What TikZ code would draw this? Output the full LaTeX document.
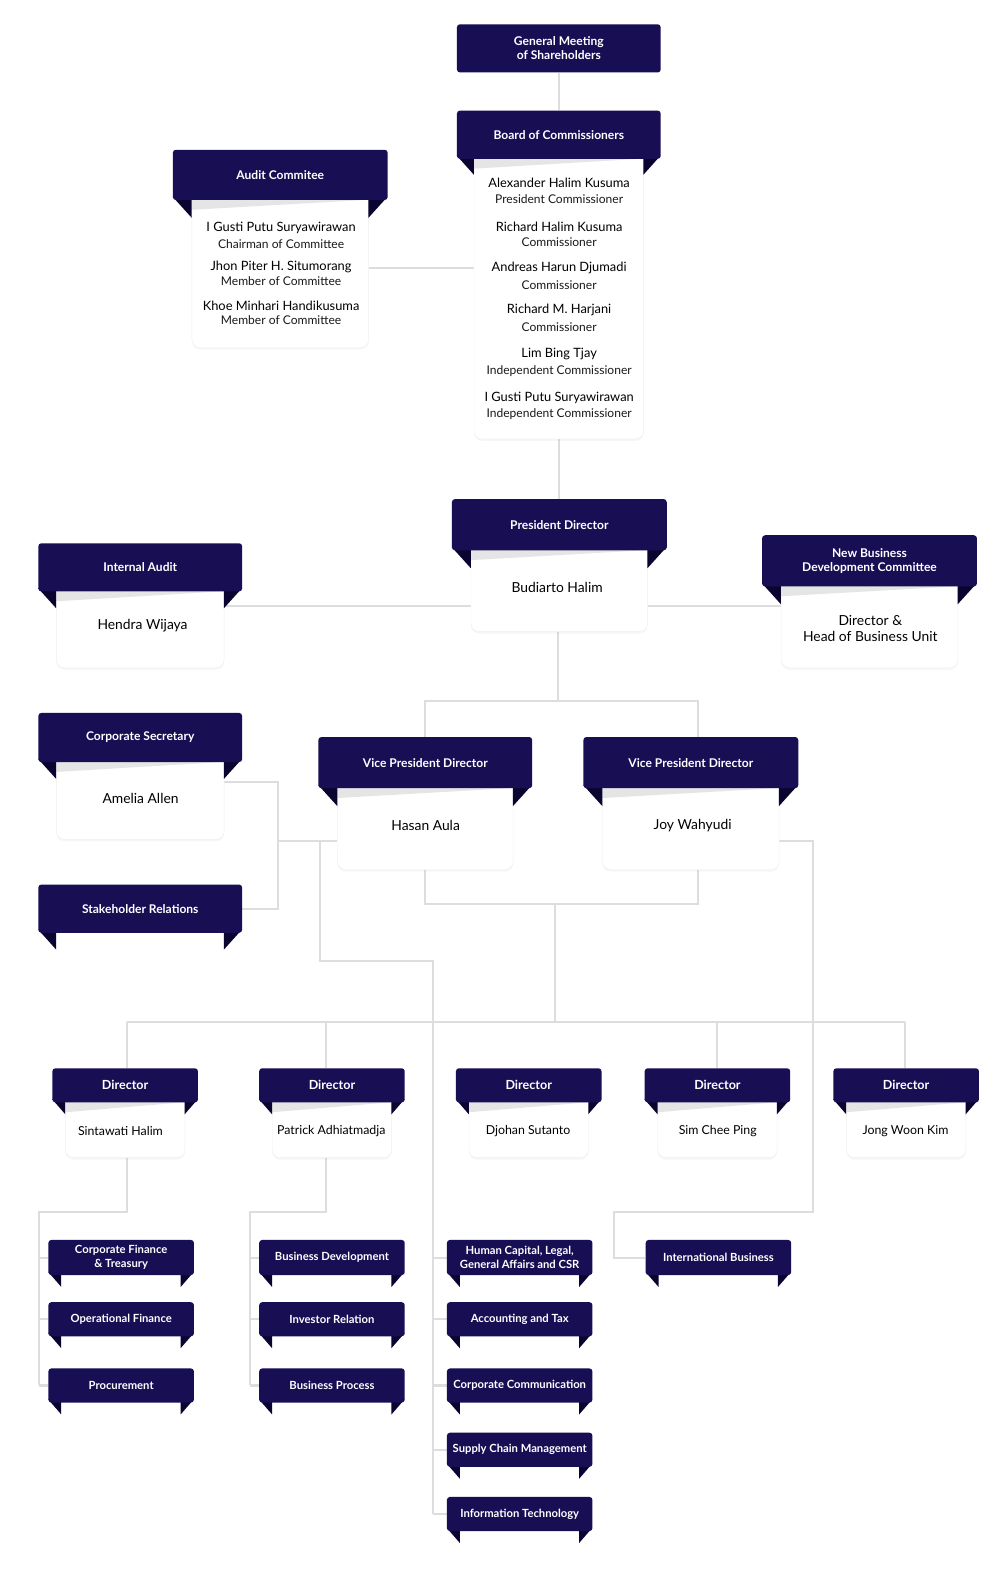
\documentclass[tikz,border=0pt]{standalone}
\usepackage{fontspec}
\setmainfont{Lato}
\usetikzlibrary{shadows}
\definecolor{navy}{HTML}{170E54}
\definecolor{navyd}{HTML}{0A0530}
\definecolor{lnc}{HTML}{DDDDDD}
\pgfdeclarelayer{bg}\pgfsetlayers{bg,main}
\tikzset{
 hdrbig/.style={fill=navy, rounded corners=3pt, text=white, font=\bfseries\fontsize{12}{14}\selectfont, align=center, inner sep=0pt},
 hdrsm/.style={hdrbig, font=\bfseries\fontsize{12}{14.5}\selectfont},
 hdrdir/.style={hdrbig, font=\bfseries\fontsize{12.5}{14}\selectfont},
 hdrsub/.style={hdrbig, font=\bfseries\fontsize{11.2}{13.5}\selectfont},
 card/.style={fill=white, rounded corners=8pt, draw=black!6, drop shadow={shadow xshift=0pt, shadow yshift=-2pt, opacity=0.07}, inner sep=0pt},
 wedge/.style={fill=black!10},
 tailc/.style={fill=navyd},
 nm/.style={font=\fontsize{12.8}{15.5}\selectfont, inner sep=0pt, text=black, align=center},
 nmbig/.style={font=\fontsize{13.8}{16}\selectfont, inner sep=0pt, text=black, align=center},
 nmsm/.style={font=\fontsize{12.3}{14}\selectfont, inner sep=0pt, text=black},
 role/.style={font=\fontsize{12}{14}\selectfont, inner sep=0pt, text=black!90},
 conn/.style={draw=lnc, line width=2pt},
}
% #1 name, #2 x1, #3 x2, #4 ytop, #5 y header bottom, #6 inset, #7 y card bottom (0 = none), #8 style, #9 text
\newcommand\ribbon[9]{%
  \pgfmathsetmacro\rA{#2+#6}%
  \pgfmathsetmacro\rB{#3-#6}%
  \pgfmathsetmacro\rW{#3-#2}%
  \pgfmathsetmacro\rH{#5-#4}%
  \pgfmathsetmacro\rT{#5+#6-1}%
  \ifnum#7>#5\relax
    \pgfmathsetmacro\cW{#3-#2-2*#6}%
    \pgfmathsetmacro\cH{#7-#5+8}%
    \node[card, minimum width=\cW pt, minimum height=\cH pt, anchor=north west] (#1c) at (\rA,#5-8) {};
    \fill[wedge] (\rA,#5) -- (\rB,#5) -- (\rA,#5+10) -- cycle;
  \fi
  \ifnum#6>0\relax
    \fill[tailc] (#2,#5-3) -- (\rA,#5-3) -- (\rA,\rT) -- cycle;
    \fill[tailc] (#3,#5-3) -- (\rB,#5-3) -- (\rB,\rT) -- cycle;
  \fi
  \node[#8, minimum width=\rW pt, minimum height=\rH pt, anchor=north west] (#1) at (#2,#4) {#9};
}
\begin{document}
\begin{tikzpicture}[x=1pt,y=-1pt]
\useasboundingbox (0,0) rectangle (996,1568);
% top
\ribbon{gm}{455}{658}{24}{72}{0}{0}{hdrbig}{General Meeting\\of Shareholders}
\ribbon{boc}{455}{658}{110}{158}{17}{437}{hdrbig}{Board of Commissioners}
\ribbon{aud}{172}{386}{149}{199}{19}{346}{hdrbig}{Audit Commitee}
\node[nm] (b1) at (557,182) {Alexander Halim Kusuma};
\node[role] (b1r) at (557,198) {President Commissioner};
\node[nm] (b2) at (557,226) {Richard Halim Kusuma};
\node[role] (b2r) at (557,241) {Commissioner};
\node[nm] (b3) at (557,267) {Andreas Harun Djumadi};
\node[role] (b3r) at (557,284) {Commissioner};
\node[nm] (b4) at (557,309) {Richard M. Harjani};
\node[role] (b4r) at (557,326) {Commissioner};
\node[nm] (b5) at (557,353) {Lim Bing Tjay};
\node[role] (b5r) at (557,370) {Independent Commissioner};
\node[nm] (b6) at (557,396) {I Gusti Putu Suryawirawan};
\node[role] (b6r) at (557,413) {Independent Commissioner};
\node[nm] (a1) at (280,227) {I Gusti Putu Suryawirawan};
\node[role] (a1r) at (280,243) {Chairman of Committee};
\node[nm] (a2) at (280,266) {Jhon Piter H. Situmorang};
\node[role] (a2r) at (280,280) {Member of Committee};
\node[nm] (a3) at (280,305) {Khoe Minhari Handikusuma};
\node[role] (a3r) at (280,319) {Member of Committee};
% president level
\ribbon{pd}{450}{664}{497}{548}{19}{629}{hdrbig}{President Director}
\ribbon{ia}{38}{241}{541}{589}{18}{665}{hdrsm}{Internal Audit}
\ribbon{nb}{759}{973}{533}{584}{19}{665}{hdrsm}{New Business\\Development Committee}
\node[nmbig] (pdn) at (555,585) {Budiarto Halim};
\node[nmbig] (ian) at (142,623) {Hendra Wijaya};
\node[nmbig] (nbn) at (867,626) {Director \&\\Head of Business Unit};
% VP level
\ribbon{cs}{38}{241}{710}{759}{18}{836}{hdrbig}{Corporate Secretary}
\ribbon{sr}{38}{241}{881}{929}{18}{0}{hdrbig}{Stakeholder Relations}
\ribbon{vpa}{317}{530}{734}{785}{19}{866}{hdrbig}{Vice President Director}
\ribbon{vpb}{581}{795}{734}{785}{19}{866}{hdrbig}{Vice President Director}
\node[nmbig] (csn) at (140,795) {Amelia Allen};
\node[nmbig] (vpan) at (424,822) {Hasan Aula};
\node[nmbig] (vpbn) at (690,822) {Joy Wahyudi};
% directors
\ribbon{da}{52}{197}{1064}{1098}{13}{1153}{hdrdir}{Director}
\ribbon{db}{258}{403}{1064}{1098}{13}{1153}{hdrdir}{Director}
\ribbon{dc}{454}{599}{1064}{1098}{13}{1153}{hdrdir}{Director}
\ribbon{dd}{642}{787}{1064}{1098}{13}{1153}{hdrdir}{Director}
\ribbon{de}{830}{975}{1064}{1098}{13}{1153}{hdrdir}{Director}
\node[nmsm] (dan) at (120,1127) {Sintawati Halim};
\node[nmsm] (dbn) at (330,1127) {Patrick Adhiatmadja};
\node[nmsm] (dcn) at (526,1127) {Djohan Sutanto};
\node[nmsm] (ddn) at (715,1127) {Sim Chee Ping};
\node[nmsm] (den) at (902,1127) {Jong Woon Kim};
% units
\ribbon{ua1}{48}{193}{1235}{1270}{13}{0}{hdrsub}{Corporate Finance\\\& Treasury}
\ribbon{ua2}{48}{193}{1297}{1331}{13}{0}{hdrsub}{Operational Finance}
\ribbon{ua3}{48}{193}{1363}{1397}{13}{0}{hdrsub}{Procurement}
\ribbon{ub1}{258}{403}{1235}{1270}{13}{0}{hdrsub}{Business Development}
\ribbon{ub2}{258}{403}{1297}{1331}{13}{0}{hdrsub}{Investor Relation}
\ribbon{ub3}{258}{403}{1363}{1397}{13}{0}{hdrsub}{Business Process}
\ribbon{uc1}{445}{590}{1235}{1270}{13}{0}{hdrsub}{Human Capital, Legal,\\General Affairs and CSR}
\ribbon{uc2}{445}{590}{1297}{1331}{13}{0}{hdrsub}{Accounting and Tax}
\ribbon{uc3}{445}{590}{1363}{1397}{13}{0}{hdrsub}{Corporate Communication}
\ribbon{uc4}{445}{590}{1427}{1461}{13}{0}{hdrsub}{Supply Chain Management}
\ribbon{uc5}{445}{590}{1491}{1525}{13}{0}{hdrsub}{Information Technology}
\ribbon{ui}{643}{788}{1235}{1270}{13}{0}{hdrsub}{International Business}
% connectors
\begin{pgfonlayer}{bg}
\fill[white] (0,0) rectangle (996,1568);
\coordinate (yAud) at (0,267);
\coordinate (yPD) at (0,604);
\coordinate (jV) at (556,698);
\coordinate (xVb) at (695,0);
\coordinate (xCS) at (277,0);
\coordinate (yCS) at (0,779);
\coordinate (ySR) at (0,906);
\coordinate (yHA) at (0,838);
\coordinate (xL) at (319,0);
\coordinate (yL) at (0,957);
\coordinate (xT) at (431,0);
\coordinate (yVB) at (0,901);
\coordinate (xMid) at (553,0);
\coordinate (yDir) at (0,1018);
\coordinate (xD1) at (127,0);
\coordinate (xD2) at (325,0);
\coordinate (xD4) at (714,0);
\coordinate (xD5) at (902,0);
\coordinate (xR) at (810,0);
\coordinate (yB) at (0,1207);
\coordinate (xI) at (612,0);
\coordinate (xA) at (39,0);
\coordinate (xB) at (249,0);
\draw[conn] (gm.south) -- (boc.north);
\draw[conn] (audc.east |- yAud) -- (bocc.west |- yAud);
\draw[conn] (bocc.south) -- (bocc.south |- pd.north);
\draw[conn] (iac.east |- yPD) -- (pdc.west |- yPD);
\draw[conn] (pdc.east |- yPD) -- (nbc.west |- yPD);
\draw[conn] (jV |- pdc.south) -- (jV) -| (vpa.north);
\draw[conn] (jV) -| (xVb |- vpb.north);
\draw[conn] (csc.east |- yCS) -| (xCS |- ySR) -- (sr.east |- ySR);
\draw[conn] (xCS |- yHA) -- (vpac.west |- yHA);
\draw[conn] (xL |- yHA) -- (xL |- yL) -| (xT |- uc5.west);
\foreach \n in {uc1,uc2,uc3,uc4,uc5} \draw[conn] (xT |- \n.west) -- (\n.west);
\draw[conn] (vpac.south) -- (vpac.south |- yVB) -| (xVb |- vpbc.south);
\draw[conn] (xMid |- yVB) -- (xMid |- yDir);
\draw[conn] (xD1 |- yDir) -- (xD5 |- yDir);
\draw[conn] (xD1 |- yDir) -- (xD1 |- da.north);
\draw[conn] (xD2 |- yDir) -- (xD2 |- db.north);
\draw[conn] (xD4 |- yDir) -- (xD4 |- dd.north);
\draw[conn] (xD5 |- yDir) -- (xD5 |- de.north);
\draw[conn] (vpbc.east |- yHA) -| (xR |- yB) -| (xI |- ui.west) -- (ui.west);
\draw[conn] (xD1 |- dac.south) -- (xD1 |- yB) -| (xA |- ua3.west);
\foreach \n in {ua1,ua2,ua3} \draw[conn] (xA |- \n.west) -- (\n.west);
\draw[conn] (xD2 |- dbc.south) -- (xD2 |- yB) -| (xB |- ub3.west);
\foreach \n in {ub1,ub2,ub3} \draw[conn] (xB |- \n.west) -- (\n.west);
\end{pgfonlayer}
\end{tikzpicture}
\end{document}
